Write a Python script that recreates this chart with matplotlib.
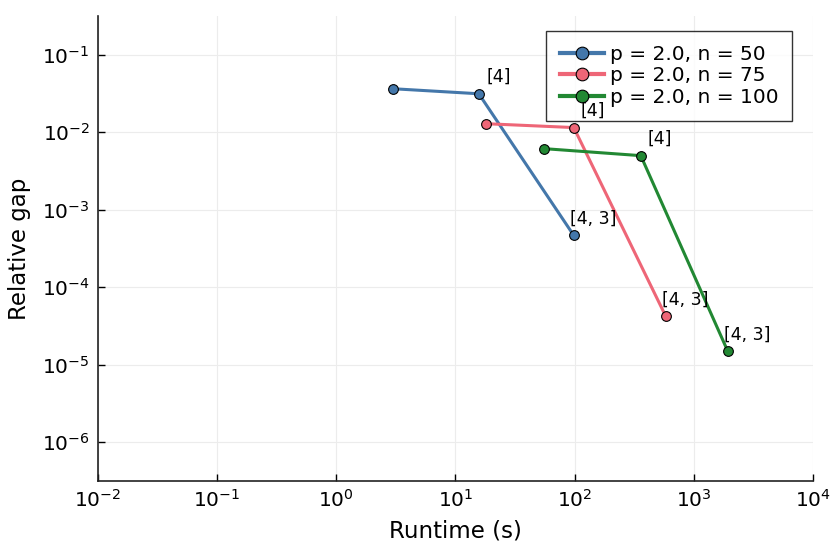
import numpy as np
import matplotlib.pyplot as plt
from matplotlib.ticker import LogLocator, NullLocator

# runtime (s) and relative gap
runtime_n50 = [2.98, 15.7, 98.4]
gap_n50 = [3.65e-2, 3.14e-2, 4.65e-4]
runtime_n75 = [18.0, 98.4, 582.0]
gap_n75 = [1.29e-2, 1.15e-2, 4.2e-5]
runtime_n100 = [55.2, 359.0, 1928.0]
gap_n100 = [6.15e-3, 4.99e-3, 1.49e-5]

labels_n50 = ['', '[4]', '[4, 3]']
labels_n75 = ['', '[4]', '[4, 3]']
labels_n100 = ['', '[4]', '[4, 3]']

series = [
    ('p = 2.0, n = 50', runtime_n50, gap_n50, labels_n50, '#4477AA'),
    ('p = 2.0, n = 75', runtime_n75, gap_n75, labels_n75, '#EE6677'),
    ('p = 2.0, n = 100', runtime_n100, gap_n100, labels_n100, '#228833'),
]

fig = plt.figure(figsize=(8.3, 5.54), dpi=100)
ax = fig.add_axes([0.118, 0.132, 0.8615, 0.839])

for name, xs, ys, labs, col in series:
    ax.plot(xs, ys, color=col, lw=2.2, marker='o', ms=7, mfc=col,
            mec='black', mew=0.8, label=name)
    for x, y, t in zip(xs, ys, labs):
        if t:
            ax.annotate(t, (x, y), xytext=(14, 12), textcoords='offset points',
                        ha='center', va='center', fontsize=12.5, zorder=10)

ax.set_xscale('log')
ax.set_yscale('log')
ax.set_xlim(1e-2, 1e4)
ax.set_ylim(10 ** -6.5, 10 ** -0.5)
ax.xaxis.set_major_locator(LogLocator(base=10, numticks=20))
ax.yaxis.set_major_locator(LogLocator(base=10, numticks=20))
ax.xaxis.set_minor_locator(NullLocator())
ax.yaxis.set_minor_locator(NullLocator())
ax.set_yticks([1e-6, 1e-5, 1e-4, 1e-3, 1e-2, 1e-1])

ax.spines['top'].set_visible(False)
ax.spines['right'].set_visible(False)
for s in ['left', 'bottom']:
    ax.spines[s].set_linewidth(1.2)
    ax.spines[s].set_color('#222222')
ax.tick_params(direction='in', length=5, width=1, labelsize=14.5, pad=6)
ax.grid(True, color='#ececec', lw=0.8)
ax.set_axisbelow(True)

ax.set_xlabel('Runtime (s)', fontsize=16.5, labelpad=6)
ax.set_ylabel('Relative gap', fontsize=16.5, labelpad=8)

leg = ax.legend(loc='upper right', fontsize=14.5, frameon=True, fancybox=False,
                edgecolor='black', borderpad=0.7, labelspacing=0.12,
                handlelength=2.2, handletextpad=0.25, borderaxespad=0,
                markerscale=1.3, bbox_to_anchor=(0.971, 0.968))
leg.get_frame().set_linewidth(1.0)
leg.set_zorder(5)
for h in leg.get_lines():
    h.set_linewidth(3)

fig.savefig('out.png', dpi=100)
